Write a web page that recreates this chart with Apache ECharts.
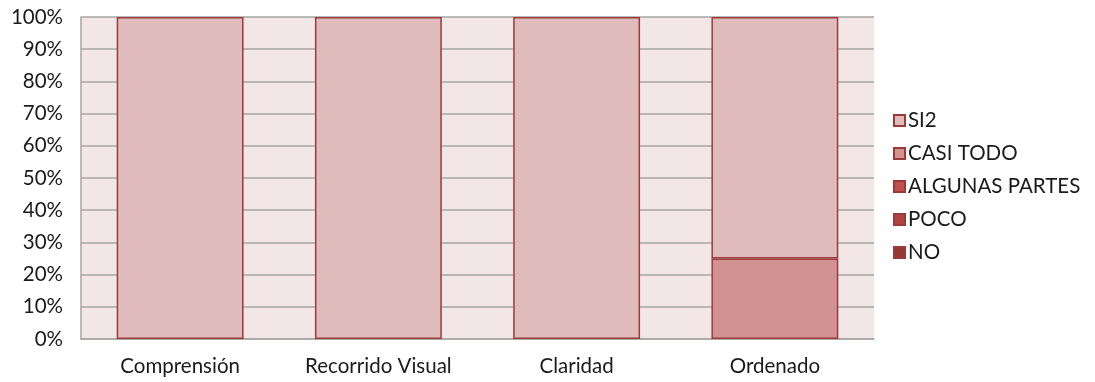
<!DOCTYPE html>
<html>
<head>
<meta charset="utf-8">
<script src="https://cdn.jsdelivr.net/npm/echarts@6/dist/echarts.min.js"></script>
<style>
  html, body { margin: 0; padding: 0; background: #ffffff; }
  #chart { width: 1095px; height: 382px; }
</style>
</head>
<body>
<div id="chart"></div>
<script>
// Categories and stacked percentages per answer
const categories = ['Comprensión', 'Recorrido Visual', 'Claridad', 'Ordenado'];
const seriesNames = ['SI2', 'CASI TODO', 'ALGUNAS PARTES', 'POCO', 'NO'];
const valuesSI2 = [100, 100, 100, 75];
const valuesCasiTodo = [0, 0, 0, 25];
const valuesAlgunasPartes = [0, 0, 0, 0];
const valuesPoco = [0, 0, 0, 0];
const valuesNo = [0, 0, 0, 0];
const yTicks = [0, 10, 20, 30, 40, 50, 60, 70, 80, 90, 100];

const fills = {
  'SI2': '#E0BBBB',
  'CASI TODO': '#D39292',
  'ALGUNAS PARTES': '#C0504D',
  'POCO': '#B0433F',
  'NO': '#953735'
};
const border = '#9A3B3A';
const dataByName = {
  'SI2': valuesSI2,
  'CASI TODO': valuesCasiTodo,
  'ALGUNAS PARTES': valuesAlgunasPartes,
  'POCO': valuesPoco,
  'NO': valuesNo
};

// Bottom of the stack is NO, top is SI2
const stackOrder = ['NO', 'POCO', 'ALGUNAS PARTES', 'CASI TODO', 'SI2'];
const font = 'Lato, "Open Sans", sans-serif';
const fontSize = 20.5;

const series = stackOrder.map(name => ({
  name: name,
  type: 'bar',
  stack: 'total',
  barWidth: '64%',
  data: dataByName[name].map(v => (v === 0 ? null : v)),
  itemStyle: { color: fills[name], borderColor: border, borderWidth: 1.5 }
}));

const chart = echarts.init(document.getElementById('chart'));
chart.setOption({
  animation: false,
  backgroundColor: '#ffffff',
  textStyle: { fontFamily: font },
  grid: { left: 81, right: 221, top: 17, bottom: 43, containLabel: false,
          show: true, backgroundColor: '#F2E6E6', borderWidth: 0 },
  legend: {
    orient: 'vertical',
    left: 893,
    top: 110,
    padding: 0,
    icon: 'rect',
    itemWidth: 11,
    itemHeight: 11,
    itemGap: 12,
    data: seriesNames,
    textStyle: { fontFamily: font, fontSize: fontSize, lineHeight: 20, color: '#1a1a1a',
                 padding: [0, 0, 0, -2] }
  },
  xAxis: {
    type: 'category',
    data: categories,
    axisLine: { show: true, lineStyle: { color: '#A6A6A6', width: 1.5 } },
    axisTick: { show: false },
    axisLabel: { fontFamily: font, fontSize: fontSize, color: '#1a1a1a', margin: 17 }
  },
  yAxis: {
    type: 'value',
    min: yTicks[0],
    max: yTicks[yTicks.length - 1],
    interval: 10,
    axisLine: { show: true, lineStyle: { color: '#A6A6A6', width: 1.5 } },
    axisTick: { show: false },
    splitLine: { show: true, lineStyle: { color: '#A6A6A6', width: 1.5 } },
    axisLabel: { fontFamily: font, fontSize: fontSize, color: '#1a1a1a', margin: 18,
                 formatter: v => v + '%' }
  },
  series: series
});
</script>
</body>
</html>
